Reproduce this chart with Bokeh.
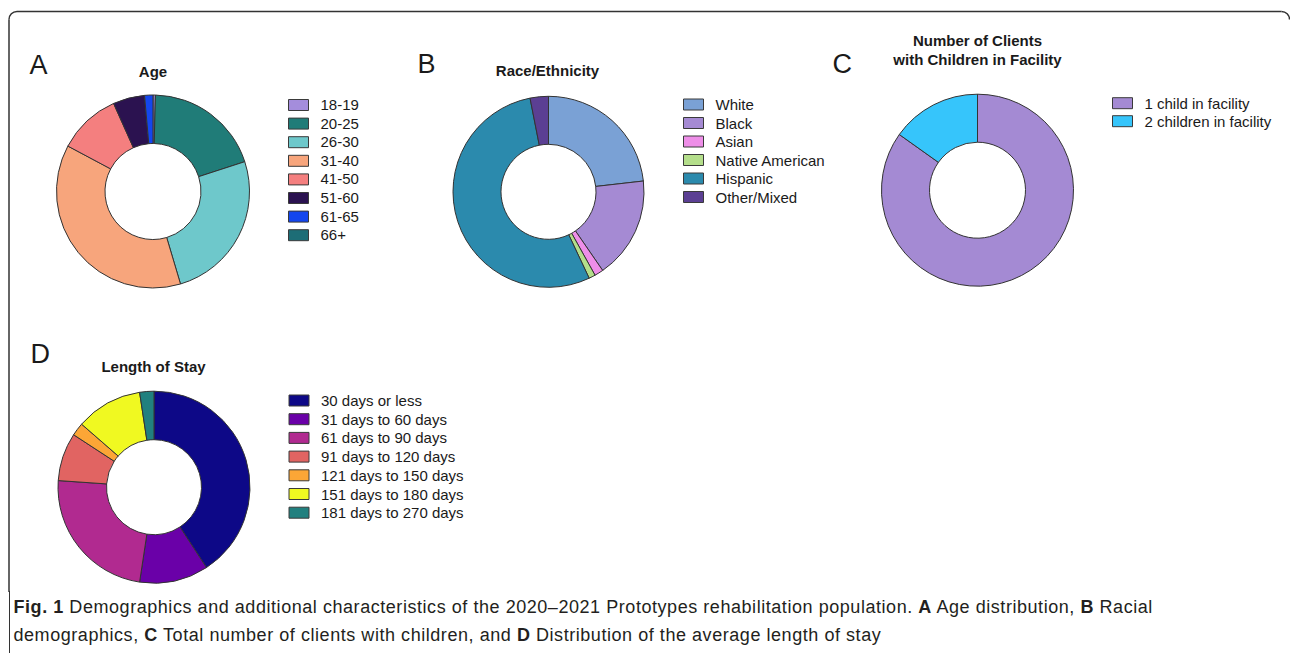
import numpy as np
from bokeh.plotting import figure
from bokeh.models import Range1d, Div
from bokeh.layouts import column
from bokeh.core.properties import value
from bokeh.embed import file_html
from bokeh.resources import INLINE

# ---------------- data ----------------
age_labels = ["18-19", "20-25", "26-30", "31-40", "41-50", "51-60", "61-65", "66+"]
age_values = [0.4, 19.6, 25.4, 37.4, 10.5, 5.3, 1.4, 0.0]
age_colors = ["#a48ddc", "#207c78", "#6ec8cb", "#f7a57c", "#f47f7f", "#2b1250", "#1446ee", "#1d6d76"]

race_labels = ["White", "Black", "Asian", "Native American", "Hispanic", "Other/Mixed"]
race_values = [23.2, 17.2, 1.5, 1.1, 53.9, 3.1]
race_colors = ["#7aa1d5", "#a58ad3", "#ee8ee8", "#b4de8b", "#2b8aad", "#5b3f93"]

child_labels = ["1 child in facility", "2 children in facility"]
child_values = [28, 5]
child_colors = ["#a48ad3", "#36c5fb"]

stay_labels = ["30 days or less", "31 days to 60 days", "61 days to 90 days", "91 days to 120 days",
               "121 days to 150 days", "151 days to 180 days", "181 days to 270 days"]
stay_values = [40.8, 11.6, 23.7, 8.1, 2.2, 11.2, 2.4]
stay_colors = ["#0d0887", "#6a00a8", "#b12a90", "#e16462", "#fca636", "#f0f921", "#21807f"]

# ---------------- figure ----------------
W, FH, DH = 1290, 592, 56
FONT = value("Liberation Sans")
p = figure(width=W, height=FH, x_range=Range1d(0, W), y_range=Range1d(0, FH),
           output_backend="svg", toolbar_location=None, min_border=0)
p.axis.visible = False
p.grid.visible = False
p.outline_line_color = None
p.background_fill_color = "white"
p.border_fill_color = "white"


def Y(py):
    return FH - py


def donut(cx, cy, R, r, values, colors):
    vals = np.array(values, dtype=float)
    cum = np.concatenate([[0.0], np.cumsum(vals)]) / vals.sum()
    start = np.pi / 2 - cum[:-1] * 2 * np.pi
    end = np.pi / 2 - cum[1:] * 2 * np.pi
    keep = vals > 0
    p.annular_wedge(x=cx, y=Y(cy), inner_radius=r, outer_radius=R,
                    start_angle=list(start[keep]), end_angle=list(end[keep]), direction="clock",
                    fill_color=[c for c, k in zip(colors, keep) if k],
                    line_color="#333333", line_width=1)


def legend(x0, y0, dy, labels, colors):
    ys = [Y(y0 + i * dy) for i in range(len(labels))]
    p.rect(x=x0 + 10, y=ys, width=20, height=11, fill_color=colors,
           line_color="#3a3a3a", line_width=1)
    p.text(x=x0 + 32, y=ys, text=labels, text_font=FONT, text_font_size="15px",
           text_baseline="middle", text_align="left", text_color="#1a1a1a")


def label(x, y, txt, size, bold=False, align="left"):
    p.text(x=[x], y=[Y(y)], text=[txt], text_font=FONT, text_font_size=size,
           text_font_style="bold" if bold else "normal", text_baseline="alphabetic",
           text_align=align, text_color="#1a1a1a")


# border (rounded top corners)
BC = "#333333"
p.segment(x0=[8.5, 16.5], y0=[Y(19), Y(11)], x1=[8.5, 1281], y1=[Y(FH + 5), Y(11)],
          line_color=BC, line_width=1.5)
p.arc(x=[16.5, 1281], y=[Y(19), Y(19)], radius=8, start_angle=[np.pi / 2, 0], end_angle=[np.pi, np.pi / 2],
      line_color=BC, line_width=1.5)

# panel letters
label(29, 64.3, "A", "27px")
label(417, 63.3, "B", "27px")
label(832, 63.3, "C", "27px")
label(30, 353, "D", "27px")

# titles
label(152.5, 70.5, "Age", "15px", bold=True, align="center")
label(547, 69.5, "Race/Ethnicity", "15px", bold=True, align="center")
label(977, 40.4, "Number of Clients", "15px", bold=True, align="center")
label(977, 59.0, "with Children in Facility", "15px", bold=True, align="center")
label(153, 366, "Length of Stay", "15px", bold=True, align="center")

# donuts
donut(152.5, 191, 96.5, 48, age_values, age_colors)
donut(548, 191.3, 95.5, 47.5, race_values, race_colors)
donut(977, 189.7, 96, 48, child_values, child_colors)
donut(153.5, 486.7, 96, 47.5, stay_values, stay_colors)

# legends
legend(288, 104.5, 18.6, age_labels, age_colors)
legend(683, 104, 18.5, race_labels, race_colors)
legend(1112, 102.7, 18, child_labels, child_colors)
legend(288.5, 400, 18.7, stay_labels, stay_colors)

caption = (
    '<div style="border-left:1.5px solid #333; margin-left:3.5px; margin-top:-6px; padding-top:2px; '
    'padding-left:4px; height:%dpx; font-family:\'Liberation Sans\',sans-serif; font-size:18px; '
    'letter-spacing:0.55px; line-height:28px; color:#231f20; white-space:nowrap; box-sizing:border-box;">'
    '<b>Fig. 1</b> Demographics and additional characteristics of the 2020\u20132021 Prototypes '
    'rehabilitation population. <b>A</b> Age distribution, <b>B</b> Racial<br>'
    'demographics, <b>C</b> Total number of clients with children, and <b>D</b> Distribution of '
    'the average length of stay</div>' % (DH + 10)
)
div = Div(text=caption, width=W, height=DH)

layout = column(p, div, spacing=0)
open("out.html", "w").write(file_html(layout, INLINE))
